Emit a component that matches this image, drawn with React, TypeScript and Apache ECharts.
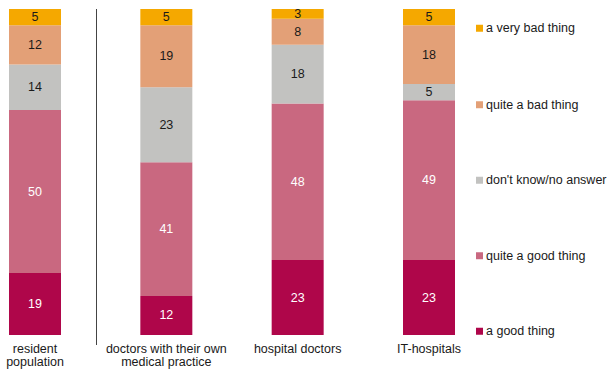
import React, { useEffect, useRef } from "react";
import * as echarts from "echarts";

const categories = ["resident\npopulation", "doctors with their own\nmedical practice", "hospital doctors", "IT-hospitals"];
const seriesNames = ["a good thing", "quite a good thing", "don't know/no answer", "quite a bad thing", "a very bad thing"];
const aGoodThing = [19, 12, 23, 23];
const quiteAGoodThing = [50, 41, 48, 49];
const dontKnow = [14, 23, 18, 5];
const quiteABadThing = [12, 19, 8, 18];
const aVeryBadThing = [5, 5, 3, 5];
const colors = ["#AF064A", "#C96880", "#C2C2C0", "#E3A077", "#F5A800"];
const labelColors = ["#ffffff", "#ffffff", "#1a1a1a", "#1a1a1a", "#1a1a1a"];
const legendCenters = [331, 255.5, 180, 104.5, 28];

export default function App() {
  const ref = useRef<HTMLDivElement>(null);
  useEffect(() => {
    const chart = echarts.init(ref.current!, null, { renderer: "svg" });
    const values = [aGoodThing, quiteAGoodThing, dontKnow, quiteABadThing, aVeryBadThing];
    const font = "'Liberation Sans', Arial, sans-serif";
    chart.setOption({
      animation: false,
      textStyle: { fontFamily: font },
      grid: { left: 35, right: 179, top: 9, bottom: 34, containLabel: false, outerBoundsMode: "none" },
      xAxis: {
        type: "category",
        data: categories,
        boundaryGap: false,
        axisLine: { show: false },
        axisTick: { show: false },
        axisLabel: { color: "#1a1a1a", fontSize: 12.5, margin: 7, lineHeight: 13.5, interval: 0, fontFamily: font },
      },
      yAxis: { type: "value", min: 0, max: 100, show: false, splitLine: { show: false } },
      legend: seriesNames.map((n, i) => ({
        data: [n],
        left: 476,
        top: legendCenters[i] - 6.25,
        itemWidth: 7,
        itemHeight: 7,
        icon: "rect",
        itemGap: 0,
        padding: 0,
        textStyle: { fontSize: 12.5, color: "#1a1a1a", fontFamily: font, padding: [0, 0, 0, -2] },
      })),
      series: seriesNames.map((n, i) => ({
        name: n,
        type: "bar",
        stack: "total",
        barWidth: 52,
        clip: false,
        data: values[i],
        itemStyle: { color: colors[i] },
        label: {
          show: true,
          position: "inside",
          color: labelColors[i],
          fontSize: 12.5,
          fontFamily: font,
        },
      })),
      graphic: [
        {
          type: "line",
          shape: { x1: 96.5, y1: 9, x2: 96.5, y2: 345 },
          style: { stroke: "#444", lineWidth: 1 },
        },
      ],
    });
    return () => chart.dispose();
  }, []);
  return <div ref={ref} style={{ width: 608, height: 369, position: "absolute", left: 0, top: 0 }} />;
}
